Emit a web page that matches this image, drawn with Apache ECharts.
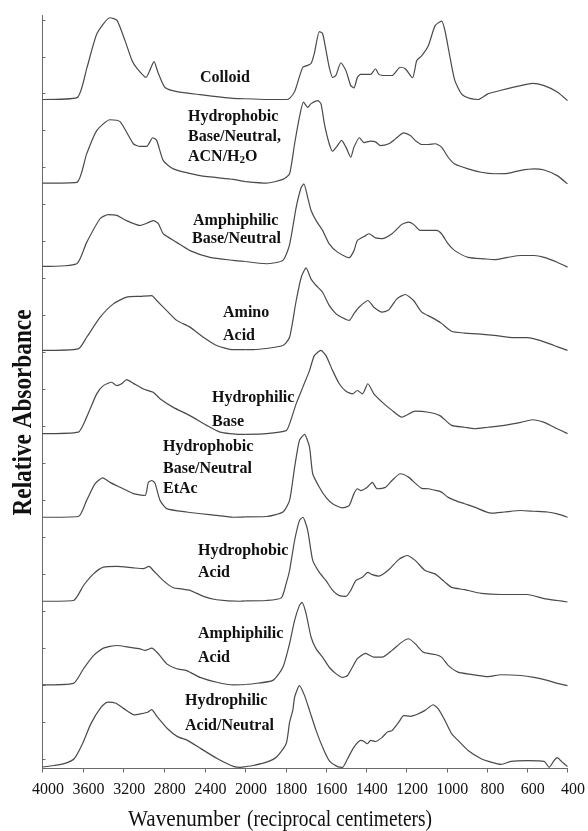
<!DOCTYPE html>
<html><head><meta charset="utf-8">
<script src="https://cdn.jsdelivr.net/npm/echarts@6/dist/echarts.min.js"></script>
<style>html,body{margin:0;padding:0;background:#fff}#c{width:588px;height:831px}</style>
</head><body><div id="c"></div>
<script>
// ---- tick labels (wavenumber axis, split scale at 2000) ----
const xTicksHigh = [4000, 3600, 3200, 2800, 2400, 2000];
const xTicksLow = [1800, 1600, 1400, 1200, 1000, 800, 600, 400];

// ---- spectra: [wavenumber, stacked relative absorbance] ----
const colloid = [[4000,17.84],[3660,17.89],[3562,18.69],[3463,19.6],[3335,20.02],[3266,19.95],[3187,19.41],[3118,18.88],[3069,18.67],[2980,18.43],[2901,18.85],[2862,18.56],[2793,18.16],[2675,18.05],[2448,17.97],[2123,17.87],[2000,17.86],[1894,17.84],[1796,17.84],[1781,17.87],[1756,18.05],[1732,18.45],[1715,18.70],[1691,18.75],[1674,18.8],[1658,19.07],[1633,19.65],[1617,19.6],[1600,19.15],[1584,18.70],[1567,18.43],[1551,18.48],[1526,18.82],[1501,18.61],[1477,18.21],[1461,18.15],[1444,18.43],[1428,18.51],[1378,18.51],[1354,18.66],[1337,18.51],[1304,18.48],[1272,18.48],[1231,18.70],[1206,18.66],[1170,18.42],[1149,18.88],[1124,19.01],[1091,19.28],[1058,19.81],[1026,19.93],[1009,19.68],[984,18.97],[960,18.35],[927,17.99],[886,17.87],[844,17.84],[796,17.99],[763,18.04],[697,18.13],[632,18.21],[574,18.27],[516,18.21],[451,18.04],[400,17.81]];
const hydrophobicBaseNeutralAcn = [[4000,15.61],[3663,15.63],[3565,16.39],[3466,17.01],[3335,17.30],[3236,17.25],[3105,16.66],[3039,16.59],[2973,16.59],[2914,16.82],[2875,16.75],[2810,16.21],[2711,15.99],[2448,15.81],[2120,15.71],[2000,15.65],[1896,15.61],[1814,15.71],[1781,15.86],[1756,16.66],[1732,17.37],[1712,17.77],[1691,17.63],[1674,17.73],[1641,17.81],[1625,17.73],[1608,17.19],[1584,16.66],[1567,16.46],[1543,16.61],[1523,16.75],[1501,16.57],[1477,16.30],[1461,16.57],[1434,16.82],[1411,16.69],[1378,16.73],[1354,16.71],[1329,16.61],[1288,16.66],[1255,16.79],[1214,16.95],[1181,16.88],[1157,16.75],[1124,16.64],[1091,16.64],[1058,16.66],[1026,16.57],[993,16.30],[960,16.12],[894,15.99],[829,15.90],[763,15.86],[697,15.87],[632,15.95],[566,15.99],[516,15.96],[451,15.81],[400,15.59]];
const amphiphilicBaseNeutral = [[4000,13.39],[3663,13.46],[3565,14.03],[3433,14.66],[3352,14.77],[3269,14.75],[3171,14.61],[3039,14.48],[2973,14.54],[2908,14.61],[2859,14.53],[2810,14.26],[2678,14.03],[2547,13.81],[2350,13.63],[2120,13.55],[2000,13.52],[1896,13.46],[1814,13.55],[1781,13.97],[1748,14.97],[1723,15.50],[1710,15.59],[1691,15.23],[1674,14.88],[1649,14.61],[1617,14.35],[1584,13.99],[1543,13.77],[1485,13.62],[1461,13.81],[1444,14.08],[1403,14.21],[1387,14.26],[1354,14.15],[1321,14.13],[1272,14.26],[1223,14.51],[1190,14.57],[1165,14.51],[1132,14.35],[1091,14.35],[1050,14.35],[1026,14.26],[993,13.99],[960,13.81],[894,13.63],[812,13.59],[763,13.57],[697,13.63],[632,13.68],[566,13.68],[516,13.63],[451,13.50],[400,13.37]];
const aminoAcid = [[4000,11.15],[3647,11.19],[3565,11.50],[3433,12.03],[3302,12.39],[3171,12.57],[3039,12.59],[2924,12.61],[2875,12.48],[2776,12.21],[2678,11.95],[2547,11.77],[2415,11.50],[2284,11.28],[2120,11.17],[2000,11.17],[1962,11.17],[1814,11.28],[1781,11.50],[1748,12.48],[1723,13.10],[1699,13.35],[1674,13.05],[1649,12.88],[1617,12.70],[1584,12.35],[1551,12.13],[1518,12.02],[1485,11.95],[1461,12.13],[1436,12.30],[1392,12.48],[1362,12.30],[1321,12.17],[1288,12.23],[1247,12.53],[1206,12.64],[1165,12.48],[1124,12.17],[1075,12.03],[1026,11.87],[976,11.66],[911,11.61],[844,11.59],[763,11.55],[664,11.49],[599,11.49],[533,11.41],[467,11.28],[400,11.15]];
const hydrophilicBase = [[4000,8.93],[3647,8.97],[3565,9.37],[3466,9.99],[3400,10.21],[3318,10.30],[3269,10.21],[3220,10.26],[3171,10.37],[3105,10.27],[3007,10.12],[2908,10.03],[2842,9.86],[2711,9.63],[2547,9.41],[2383,9.15],[2251,8.97],[2059,8.91],[2000,8.91],[1896,8.93],[1798,9.01],[1781,9.19],[1748,9.73],[1715,10.17],[1682,10.61],[1658,11.01],[1625,11.15],[1600,11.01],[1567,10.61],[1534,10.26],[1501,10.06],[1468,9.99],[1444,10.08],[1419,9.99],[1392,10.26],[1362,9.99],[1321,9.77],[1272,9.55],[1223,9.37],[1157,9.53],[1091,9.50],[1034,9.41],[976,9.15],[911,9.10],[862,9.06],[796,9.10],[714,9.15],[632,9.23],[574,9.30],[516,9.23],[451,9.06],[400,8.93]];
const hydrophobicBaseNeutralEtac = [[4000,6.70],[3647,6.72],[3565,7.15],[3483,7.59],[3407,7.75],[3335,7.63],[3236,7.50],[3105,7.33],[2990,7.28],[2957,7.63],[2924,7.68],[2892,7.61],[2842,7.15],[2776,6.93],[2579,6.84],[2284,6.75],[2120,6.70],[2000,6.71],[1896,6.72],[1814,6.84],[1781,7.15],[1756,8.03],[1732,8.75],[1707,8.91],[1682,8.57],[1666,7.86],[1633,7.50],[1600,7.23],[1567,7.06],[1518,6.95],[1485,7.01],[1461,7.33],[1444,7.46],[1428,7.41],[1395,7.50],[1370,7.63],[1346,7.46],[1304,7.50],[1272,7.68],[1231,7.86],[1190,7.77],[1157,7.61],[1124,7.47],[1091,7.46],[1050,7.41],[1026,7.37],[993,7.23],[960,7.15],[911,7.06],[862,6.97],[780,6.81],[714,6.84],[632,6.88],[566,6.86],[500,6.84],[451,6.79],[400,6.70]];
const hydrophobicAcid = [[4000,4.46],[3695,4.48],[3596,4.88],[3498,5.19],[3400,5.37],[3269,5.39],[3105,5.35],[3007,5.33],[2951,5.39],[2908,5.28],[2810,5.01],[2711,4.82],[2629,4.79],[2547,4.75],[2415,4.59],[2284,4.50],[2054,4.46],[2000,4.47],[1896,4.48],[1822,4.55],[1798,4.93],[1781,5.28],[1756,6.08],[1732,6.61],[1715,6.70],[1691,6.35],[1666,5.55],[1633,5.23],[1600,5.01],[1567,4.75],[1534,4.61],[1501,4.59],[1477,4.75],[1452,5.01],[1419,5.10],[1392,5.23],[1370,5.17],[1337,5.13],[1288,5.30],[1239,5.57],[1198,5.68],[1157,5.55],[1108,5.28],[1058,5.19],[1009,4.97],[976,4.83],[911,4.77],[829,4.67],[730,4.64],[599,4.64],[516,4.53],[451,4.48],[400,4.44]];
const amphiphilicAcid = [[4000,2.23],[3695,2.27],[3596,2.66],[3498,3.01],[3400,3.21],[3269,3.28],[3138,3.23],[3039,3.19],[2990,3.15],[2924,3.21],[2859,3.06],[2776,2.79],[2678,2.66],[2579,2.61],[2448,2.43],[2284,2.30],[2120,2.23],[2000,2.24],[1962,2.26],[1864,2.35],[1814,2.70],[1781,3.33],[1756,3.95],[1732,4.35],[1719,4.43],[1699,4.13],[1674,3.50],[1649,3.19],[1617,2.97],[1584,2.70],[1551,2.53],[1518,2.43],[1493,2.48],[1469,2.70],[1444,2.93],[1403,3.07],[1362,2.97],[1321,2.97],[1272,3.15],[1223,3.37],[1190,3.46],[1157,3.33],[1116,3.10],[1058,3.04],[1026,2.97],[993,2.75],[944,2.57],[878,2.51],[796,2.45],[730,2.50],[632,2.48],[566,2.43],[500,2.35],[451,2.27],[400,2.21]];
const hydrophilicAcidNeutral = [[4000,0.04],[3885,0.08],[3786,0.13],[3688,0.26],[3606,0.66],[3524,1.19],[3424,1.63],[3359,1.77],[3276,1.74],[3195,1.59],[3096,1.43],[3030,1.46],[2965,1.50],[2926,1.57],[2867,1.37],[2768,1.06],[2670,0.85],[2571,0.75],[2440,0.53],[2276,0.26],[2112,0.05],[2049,0.03],[2000,0.05],[1962,0.08],[1896,0.17],[1847,0.30],[1798,0.66],[1781,1.23],[1765,1.55],[1756,1.90],[1732,2.21],[1707,1.95],[1682,1.55],[1649,1.01],[1617,0.57],[1584,0.21],[1543,0.05],[1518,0.03],[1493,0.26],[1461,0.57],[1428,0.75],[1411,0.72],[1395,0.66],[1378,0.75],[1354,0.72],[1321,0.83],[1296,0.97],[1272,1.01],[1239,1.23],[1214,1.41],[1181,1.39],[1149,1.44],[1108,1.55],[1067,1.70],[1042,1.59],[1009,1.28],[976,0.93],[944,0.75],[894,0.48],[829,0.26],[780,0.17],[730,0.11],[681,0.19],[599,0.21],[516,0.19],[491,0.03],[467,0.21],[451,0.29],[426,0.17],[400,0.05]];

const traces = [colloid, hydrophobicBaseNeutralAcn, amphiphilicBaseNeutral, aminoAcid, hydrophilicBase,
  hydrophobicBaseNeutralEtac, hydrophobicAcid, amphiphilicAcid, hydrophilicAcidNeutral];
const traceNames = ['Colloid', 'Hydrophobic Base/Neutral, ACN/H2O', 'Amphiphilic Base/Neutral', 'Amino Acid',
  'Hydrophilic Base', 'Hydrophobic Base/Neutral EtAc', 'Hydrophobic Acid', 'Amphiphilic Acid', 'Hydrophilic Acid/Neutral'];

// ---- styling ----
const FONT = '"Liberation Serif","Times New Roman",serif';
const LINE = '#4a4a4a';
const AX = '#6a6a6a';
const TXT = '#111';
const yTickVals = [];
for (let k = 0; k <= 20; k++) yTickVals.push(+(0.259 + 0.9853 * k).toFixed(3));

const chart = echarts.init(document.getElementById('c'), null, { renderer: 'canvas' });

const series = [];
traces.forEach((t, i) => {
  const common = { type: 'line', name: traceNames[i], symbol: 'none', smooth: 0.2, silent: true, clip: false,
    lineStyle: { color: LINE, width: 1.2 }, itemStyle: { color: LINE } };
  series.push(Object.assign({}, common, { xAxisIndex: 0, yAxisIndex: 0, data: t.filter(p => p[0] >= 2000) }));
  series.push(Object.assign({}, common, { xAxisIndex: 1, yAxisIndex: 1, data: t.filter(p => p[0] <= 2000) }));
});

function lbl(x, y, text) {
  return { type: 'text', x: x, y: y, silent: true,
    style: { text: text, fill: TXT, font: 'bold 16px ' + FONT,
      align: 'left', verticalAlign: 'middle', textAlign: 'left', textVerticalAlign: 'middle' } };
}

const graphics = [
  lbl(200, 77.6, 'Colloid'),
  lbl(188, 117, 'Hydrophobic'),
  lbl(188, 137, 'Base/Neutral,'),
  { type: 'text', x: 188, y: 157, silent: true, style: {
      text: '{a|ACN/H}{s|2}{a|O}', fill: TXT, align: 'left', verticalAlign: 'middle', textAlign: 'left', textVerticalAlign: 'middle',
      rich: { a: { fontSize: 16, lineHeight: 18, fontFamily: FONT, fontWeight: 'bold', fill: TXT },
              s: { fontSize: 11, lineHeight: 12, verticalAlign: 'bottom', fontFamily: FONT, fontWeight: 'bold', fill: TXT } } } },
  lbl(193, 220.5, 'Amphiphilic'),
  lbl(192, 239, 'Base/Neutral'),
  lbl(223, 313, 'Amino'),
  lbl(223, 336, 'Acid'),
  lbl(212, 397.5, 'Hydrophilic'),
  lbl(212, 422, 'Base'),
  lbl(163, 447, 'Hydrophobic'),
  lbl(163, 468.5, 'Base/Neutral'),
  lbl(163, 488.5, 'EtAc'),
  lbl(198, 550.5, 'Hydrophobic'),
  lbl(198, 572.5, 'Acid'),
  lbl(198, 633.5, 'Amphiphilic'),
  lbl(198, 657.5, 'Acid'),
  lbl(185, 700.5, 'Hydrophilic'),
  lbl(185, 725.5, 'Acid/Neutral'),
  // axis titles (the scanned figure's axis text is horizontally condensed)
  { type: 'text', x: 23.5, y: 412.5, rotation: Math.PI / 2, scaleX: 0.83, silent: true,
    style: { text: 'Relative Absorbance', fill: TXT, font: 'bold 28px ' + FONT,
      align: 'center', verticalAlign: 'middle', textAlign: 'center', textVerticalAlign: 'middle' } },
  { type: 'text', x: 128, y: 819.5, scaleX: 0.92, silent: true,
    style: { text: 'Wavenumber', fill: TXT, font: '23px ' + FONT,
      align: 'left', verticalAlign: 'middle', textAlign: 'left', textVerticalAlign: 'middle' } },
  { type: 'text', x: 247, y: 819.5, scaleX: 0.845, silent: true,
    style: { text: '(reciprocal centimeters)', fill: TXT, font: '23px ' + FONT,
      align: 'left', verticalAlign: 'middle', textAlign: 'left', textVerticalAlign: 'middle' } }
];

const xCommon = {
  type: 'value', inverse: true,
  axisLine: { show: true, onZero: false, lineStyle: { color: AX, width: 1 } },
  axisTick: { show: true, inside: false, length: 4, lineStyle: { color: AX, width: 1 } },
  axisLabel: { fontFamily: FONT, fontSize: 16, color: TXT, margin: 13, padding: [0, 0, 0, 11],
    formatter: function (v) { return String(v); } },
  splitLine: { show: false }
};

const option = {
  animation: false,
  backgroundColor: '#fff',
  grid: [
    { left: 42.5, width: 203, top: 15.5, bottom: 62.5 },
    { left: 245.5, width: 325, top: 15.5, bottom: 62.5 }
  ],
  xAxis: [
    echarts.util.merge(echarts.util.clone(xCommon), { gridIndex: 0, min: 2000, max: 4000, interval: 400,
      axisTick: { customValues: xTicksHigh }, axisLabel: { customValues: xTicksHigh } }),
    echarts.util.merge(echarts.util.clone(xCommon), { gridIndex: 1, min: 400, max: 2000, interval: 200,
      axisTick: { customValues: xTicksLow }, axisLabel: { customValues: xTicksLow } })
  ],
  yAxis: [
    { gridIndex: 0, type: 'value', min: 0, max: 20.08,
      axisLine: { show: true, lineStyle: { color: AX, width: 1 } },
      axisTick: { show: true, inside: true, length: 3, customValues: yTickVals, lineStyle: { color: AX } },
      axisLabel: { show: false }, splitLine: { show: false } },
    { gridIndex: 1, type: 'value', min: 0, max: 20.08, show: false, splitLine: { show: false } }
  ],
  series: series,
  graphic: { elements: graphics }
};
chart.setOption(option);
</script>
</body></html>
